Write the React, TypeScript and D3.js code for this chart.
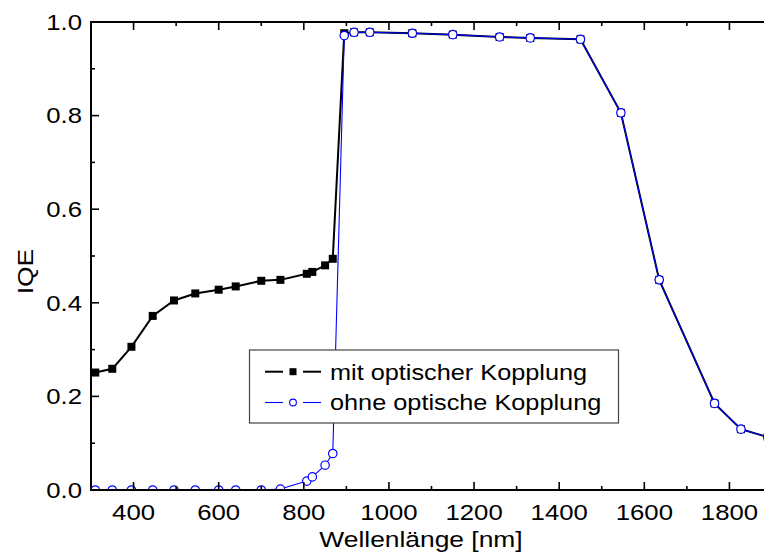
import React from "react";
import * as d3 from "d3";

const wavelengths = [310, 350, 395, 445, 495, 545, 600, 640, 700, 745, 807, 820, 850, 868, 895, 918, 955, 1055, 1150, 1260, 1332, 1450, 1545, 1635, 1765, 1827, 1890];
const iqeWith = [0.251, 0.259, 0.306, 0.372, 0.405, 0.420, 0.428, 0.435, 0.447, 0.449, 0.462, 0.466, 0.480, 0.494, 0.976, 0.978, 0.978, 0.976, 0.973, 0.968, 0.966, 0.963, 0.806, 0.449, 0.185, 0.130, 0.113];
const iqeWithout = [0.0, 0.0, 0.0, 0.0, 0.0, 0.0, 0.0, 0.0, 0.0, 0.002, 0.019, 0.028, 0.053, 0.078, 0.971, 0.978, 0.978, 0.976, 0.973, 0.968, 0.966, 0.963, 0.806, 0.449, 0.185, 0.130, 0.113];

const xMajorTicks = [400, 600, 800, 1000, 1200, 1400, 1600, 1800];
const xMinorTicks = [300, 500, 700, 900, 1100, 1300, 1500, 1700, 1900];
const yMajorTicks = [0.0, 0.2, 0.4, 0.6, 0.8, 1.0];
const yMinorTicks = [0.1, 0.3, 0.5, 0.7, 0.9];

const seriesNames = ["mit optischer Kopplung", "ohne optische Kopplung"];
const xTitle = "Wellenlänge [nm]";
const yTitle = "IQE";

const W = 764;
const H = 560;
const L = 91, R = 772, T = 22, B = 490;
const FONT = "'Liberation Sans', Arial, sans-serif";
const SX = 1.17;

export default function App() {
  const x = d3.scaleLinear().domain([300, 1900]).range([L, R]);
  const y = d3.scaleLinear().domain([0, 1]).range([B, T]);
  const idx = d3.range(wavelengths.length);
  const line = (vals: number[]) =>
    d3.line<number>().x((i) => x(wavelengths[i])).y((i) => y(vals[i]))(idx) || "";

  const sq = 8;
  const lx = 249.5, ly = 350, lw = 369, lh = 73;

  return (
    <div style={{ position: "fixed", left: 0, top: 0 }}>
      <svg width={W} height={H} style={{ display: "block", background: "#fff" }} fontFamily={FONT}>
        <defs>
          <clipPath id="plotclip">
            <rect x={L} y={T} width={R - L} height={B - T} />
          </clipPath>
        </defs>
        <g clipPath="url(#plotclip)">
          <path d={line(iqeWith)} fill="none" stroke="#000" strokeWidth={2} />
          {idx.map((i) => (
            <rect key={"s" + i} x={x(wavelengths[i]) - sq / 2} y={y(iqeWith[i]) - sq / 2} width={sq} height={sq} fill="#000" />
          ))}
          <path d={line(iqeWithout)} fill="none" stroke="#0000ff" strokeWidth={1.1} />
          {idx.map((i) => (
            <circle key={"c" + i} cx={x(wavelengths[i])} cy={y(iqeWithout[i])} r={4.2} fill="#fff" stroke="#0000ff" strokeWidth={1.2} />
          ))}
        </g>

        {/* frame */}
        <rect x={L} y={T} width={R - L} height={B - T} fill="none" stroke="#000" strokeWidth={2} />

        {/* x ticks bottom and top */}
        {xMajorTicks.map((t) => (
          <g key={"xM" + t}>
            <line x1={x(t)} x2={x(t)} y1={B} y2={B - 8} stroke="#000" strokeWidth={1.6} />
            <line x1={x(t)} x2={x(t)} y1={T} y2={T + 8} stroke="#000" strokeWidth={1.6} />
            <text transform={`translate(${x(t)},520) scale(${SX},1)`} textAnchor="middle" fontSize={22} fill="#000">{t}</text>
          </g>
        ))}
        {xMinorTicks.map((t) => (
          <g key={"xm" + t}>
            <line x1={x(t)} x2={x(t)} y1={B} y2={B - 4} stroke="#000" strokeWidth={1.6} />
            <line x1={x(t)} x2={x(t)} y1={T} y2={T + 4} stroke="#000" strokeWidth={1.6} />
          </g>
        ))}

        {/* y ticks left and right */}
        {yMajorTicks.map((t) => (
          <g key={"yM" + t}>
            <line x1={L} x2={L + 8} y1={y(t)} y2={y(t)} stroke="#000" strokeWidth={1.6} />
            <line x1={R} x2={R - 8} y1={y(t)} y2={y(t)} stroke="#000" strokeWidth={1.6} />
            <text transform={`translate(82,${y(t) + 7.8}) scale(${SX},1)`} textAnchor="end" fontSize={22} fill="#000">{t.toFixed(1)}</text>
          </g>
        ))}
        {yMinorTicks.map((t) => (
          <g key={"ym" + t}>
            <line x1={L} x2={L + 4} y1={y(t)} y2={y(t)} stroke="#000" strokeWidth={1.6} />
            <line x1={R} x2={R - 4} y1={y(t)} y2={y(t)} stroke="#000" strokeWidth={1.6} />
          </g>
        ))}

        {/* axis titles */}
        <text transform={`translate(421,546.5) scale(1.2,1)`} textAnchor="middle" fontSize={22} fill="#000">{xTitle}</text>
        <text transform={`translate(33,271.5) rotate(-90) scale(1.2,1)`} textAnchor="middle" fontSize={22} fill="#000">{yTitle}</text>

        {/* legend */}
        <rect x={lx} y={ly} width={lw} height={lh} fill="#fff" stroke="#444" strokeWidth={1.2} />
        <line x1={265} x2={283} y1={371.7} y2={371.7} stroke="#000" strokeWidth={2} />
        <line x1={303} x2={321} y1={371.7} y2={371.7} stroke="#000" strokeWidth={2} />
        <rect x={293 - 3.5} y={371.7 - 3.5} width={7} height={7} fill="#000" />
        <text transform={`translate(330,379.5) scale(1.15,1)`} fontSize={22} fill="#000">{seriesNames[0]}</text>
        <line x1={265} x2={283} y1={402.5} y2={402.5} stroke="#0000ff" strokeWidth={1.1} />
        <line x1={303} x2={321} y1={402.5} y2={402.5} stroke="#0000ff" strokeWidth={1.1} />
        <circle cx={293} cy={402.5} r={3.4} fill="#fff" stroke="#0000ff" strokeWidth={1.1} />
        <text transform={`translate(330,410) scale(1.15,1)`} fontSize={22} fill="#000">{seriesNames[1]}</text>
      </svg>
    </div>
  );
}
